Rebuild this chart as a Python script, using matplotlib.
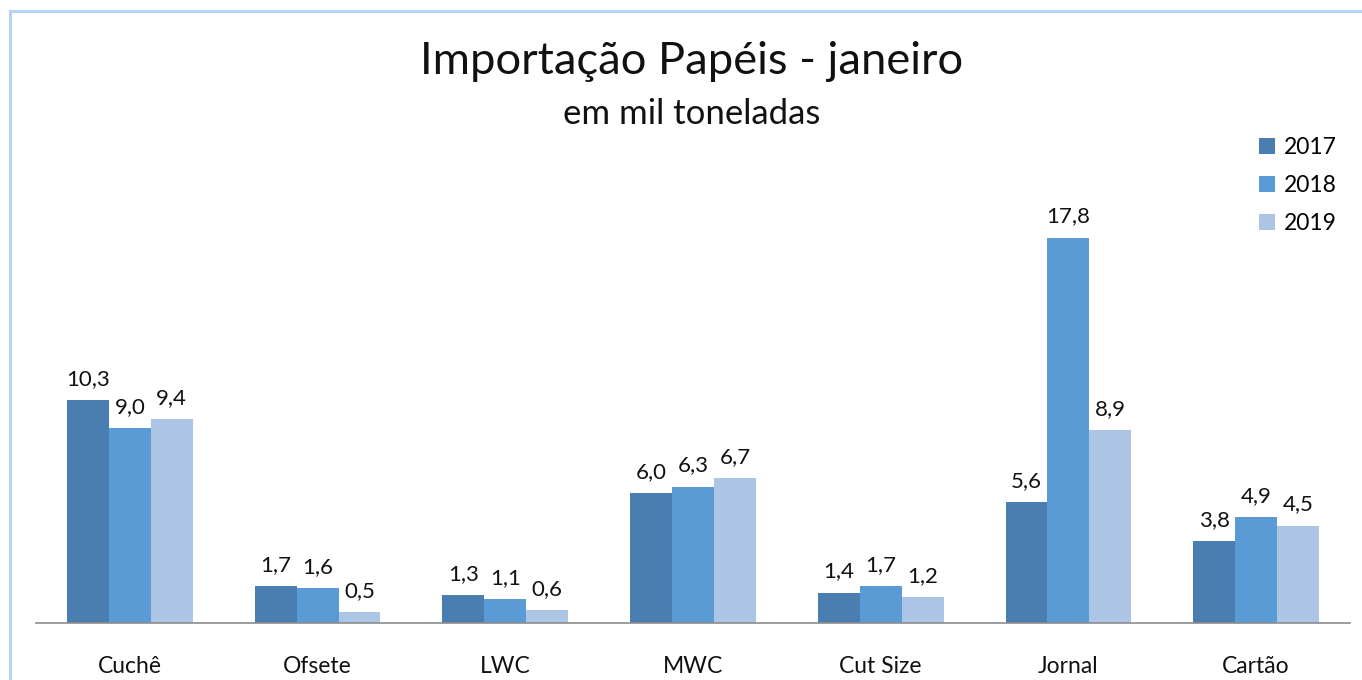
import matplotlib
matplotlib.use("Agg")
import matplotlib.pyplot as plt
import numpy as np
from matplotlib.lines import Line2D

categories = ["Cuchê", "Ofsete", "LWC", "MWC", "Cut Size", "Jornal", "Cartão"]
years = ["2017", "2018", "2019"]
v2017 = [10.3, 1.7, 1.3, 6.0, 1.4, 5.6, 3.8]
v2018 = [9.0, 1.6, 1.1, 6.3, 1.7, 17.8, 4.9]
v2019 = [9.4, 0.5, 0.6, 6.7, 1.2, 8.9, 4.5]
series = [v2017, v2018, v2019]
colors = ["#4a7eb0", "#5b9bd5", "#adc5e5"]

plt.rcParams['font.family'] = ['Lato', 'DejaVu Sans']

W, H = 1362, 680
fig = plt.figure(figsize=(W / 100, H / 100), dpi=100)

# light blue chart border (top and left only visible)
bc = "#b4d4f6"
fig.add_artist(Line2D([10 / W, 1.0], [1 - 11 / H, 1 - 11 / H], transform=fig.transFigure,
                      color=bc, linewidth=2.2))
fig.add_artist(Line2D([10 / W, 10 / W], [0, 1 - 11 / H], transform=fig.transFigure,
                      color=bc, linewidth=2.2))

ax_left, ax_right = 36 / W, 1350 / W
ax_bottom, ax_top = 1 - 623 / H, 1 - 190 / H
ax = fig.add_axes([ax_left, ax_bottom, ax_right - ax_left, ax_top - ax_bottom])

x = np.arange(len(categories))
bw = 0.2234
for i, (vals, col, yr) in enumerate(zip(series, colors, years)):
    pos = x + (i - 1) * bw
    ax.bar(pos, vals, width=bw, color=col, label=yr, zorder=2)
    for p, v in zip(pos, vals):
        ax.annotate(f"{v:.1f}".replace(".", ","), (p, v), xytext=(0, 8),
                    textcoords="offset points", ha="center", va="bottom",
                    fontsize=16, color="#111111")

ax.set_xlim(-0.5, len(categories) - 0.5)
ax.set_ylim(0, 20)
for s in ["top", "right", "left"]:
    ax.spines[s].set_visible(False)
ax.spines["bottom"].set_color("#8c8c8c")
ax.spines["bottom"].set_linewidth(1.2)
ax.set_yticks([])
ax.set_xticks(x)
ax.set_xticklabels(categories, fontsize=16.5, color="#111111")
ax.tick_params(axis="x", length=0, pad=24)

fig.text(692 / W, 1 - 62 / H, "Importação Papéis - janeiro", ha="center", va="center",
         fontsize=32.6, color="#111111")
fig.text(692 / W, 1 - 114 / H, "em mil toneladas", ha="center", va="center",
         fontsize=25, color="#111111")

ax.legend(loc="upper left", bbox_to_anchor=(1238 / W, 1 - 116 / H),
          bbox_transform=fig.transFigure, frameon=False, fontsize=16.5,
          handlelength=0.7, handleheight=0.7, handletextpad=0.4,
          labelspacing=0.75)

fig.savefig("out.png", dpi=100)
